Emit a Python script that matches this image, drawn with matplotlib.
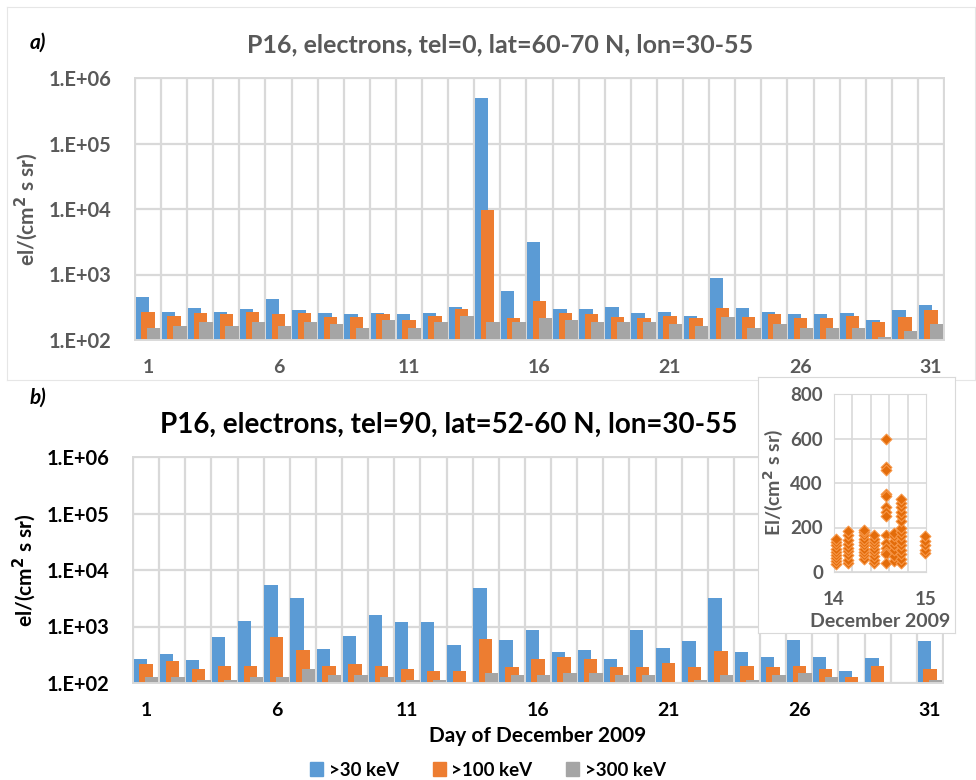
import numpy as np
import matplotlib
matplotlib.use("Agg")
import matplotlib.pyplot as plt
from matplotlib.patches import Patch
from matplotlib.ticker import FixedLocator, FuncFormatter

plt.rcParams['font.family'] = ['Lato', 'DejaVu Sans']
plt.rcParams['font.weight'] = 'bold'
plt.rcParams['axes.labelweight'] = 'bold'

W, H = 976, 780
BLUE, ORANGE, GRAY = '#5B9BD5', '#ED7D31', '#A5A5A5'
GRID = '#D9D9D9'

days = np.arange(1, 32)
tick_days = [1, 6, 11, 16, 21, 26, 31]
labels = ['>30 keV', '>100 keV', '>300 keV']

# panel a) tel=0, lat=60-70 N
a_30 = [457, 270, 311, 270, 297, 423, 284, 258, 247, 258, 247, 258, 323, 490000, 554, 3135,
        297, 297, 323, 258, 270, 235, 875, 311, 270, 247, 247, 258, 200, 284, 346]
a_100 = [270, 235, 258, 249, 270, 249, 258, 224, 224, 249, 200, 235, 297, 9660, 214, 398,
         258, 249, 224, 214, 235, 214, 311, 224, 249, 214, 214, 235, 186, 224, 284]
a_300 = [151, 164, 186, 164, 186, 164, 186, 173, 151, 200, 151, 186, 235, 186, 186, 214,
         200, 186, 186, 186, 173, 164, 224, 151, 173, 151, 151, 151, 112, 137, 173]

# panel b) tel=90, lat=52-60 N (day 30 missing)
nan = np.nan
b_30 = [265, 329, 251, 656, 1260, 5350, 3200, 398, 675, 1585, 1190, 1225, 468, 4875, 573, 871,
        348, 387, 265, 850, 409, 551, 3200, 348, 287, 573, 287, 163, 272, nan, 551]
b_100 = [216, 244, 177, 202, 202, 640, 377, 202, 216, 202, 177, 163, 163, 597, 189, 265,
         287, 265, 189, 189, 225, 189, 367, 202, 189, 202, 177, 126, 202, nan, 177]
b_300 = [126, 126, 113, 113, 126, 126, 177, 138, 138, 126, 113, 113, nan, 152, 138, 138,
         150, 150, 138, 138, nan, 113, 138, 113, 138, 150, 126, nan, nan, nan, 113]

# inset: >100 keV on 14 Dec 2009
ins_x = [14.02] * 9 + [14.15] * 9 + [14.33] * 10 + [14.43] * 9 + [14.56] * 14 + [14.65] * 7 \
        + [14.73] * 15 + [14.99] * 5
ins_y = [35, 50, 62, 75, 90, 105, 120, 135, 150,
         40, 55, 75, 95, 110, 125, 145, 165, 185,
         60, 75, 90, 105, 120, 135, 150, 165, 180, 190,
         40, 55, 70, 90, 105, 120, 135, 150, 165,
         600, 470, 460, 350, 340, 290, 270, 250, 165, 130, 110, 90, 80, 40,
         50, 70, 100, 120, 140, 160, 175,
         40, 60, 80, 100, 120, 140, 160, 180, 200, 230, 250, 270, 290, 310, 330,
         85, 100, 120, 140, 160]


def px(l, t, r, b):
    return [l / W, 1 - b / H, (r - l) / W, (b - t) / H]


def bar_panel(ax, series, txt_color):
    width = 0.51
    offs = [-0.22, 0.0, 0.22]
    for vals, off, c in zip(series, offs, [BLUE, ORANGE, GRAY]):
        v = np.array(vals, dtype=float)
        m = ~np.isnan(v)
        ax.bar(days[m] + off, v[m] - 100, bottom=100, width=width, color=c, zorder=2)
    ax.set_yscale('log')
    ax.set_ylim(1e2, 1e6)
    ax.set_xlim(0.5, 31.5)
    ax.yaxis.set_major_locator(FixedLocator([1e2, 1e3, 1e4, 1e5, 1e6]))
    ax.yaxis.set_minor_locator(FixedLocator([]))
    ax.yaxis.set_major_formatter(FuncFormatter(lambda v, p: "1.E+%02d" % round(np.log10(v))))
    ax.set_xticks(tick_days)
    ax.set_xticks(np.arange(0.5, 32, 1), minor=True)
    ax.grid(True, which='minor', axis='x', color=GRID, lw=1.6, zorder=0)
    ax.grid(True, which='major', axis='y', color=GRID, lw=1.6, zorder=0)
    ax.set_axisbelow(True)
    ax.tick_params(which='both', length=0)
    ax.tick_params(axis='x', pad=14, labelsize=14, labelcolor=txt_color)
    ax.tick_params(axis='y', pad=17, labelsize=14.5, labelcolor=txt_color)
    for s in ax.spines.values():
        s.set_color(GRID)
        s.set_linewidth(1.4)
    ax.set_ylabel('el/(cm$^2$ s sr)', fontsize=15, color=txt_color, labelpad=6)


fig = plt.figure(figsize=(W / 100, H / 100), dpi=100)

# faint frame around panel a
frame = fig.add_axes(px(7, 7, 975, 380), zorder=0)
frame.set_xticks([])
frame.set_yticks([])
for s in frame.spines.values():
    s.set_color('#E6E6E6')

ax_a = fig.add_axes(px(135, 78, 944, 340), zorder=1)
bar_panel(ax_a, [a_30, a_100, a_300], '#595959')
fig.text(500 / W, 1 - 45 / H, 'P16, electrons, tel=0, lat=60-70 N, lon=30-55',
         ha='center', va='center', fontsize=18, color='#595959', fontweight='bold')
fig.text(30 / W, 1 - 43 / H, 'a)', fontsize=15, fontstyle='italic', fontweight='bold',
         ha='left', va='center')

ax_b = fig.add_axes(px(133, 457, 943, 683), zorder=1)
bar_panel(ax_b, [b_30, b_100, b_300], '#000000')
ax_b.set_xlabel('Day of December 2009', fontsize=15, labelpad=5)
fig.text(449 / W, 1 - 425 / H, 'P16, electrons, tel=90, lat=52-60 N, lon=30-55',
         ha='center', va='center', fontsize=20, color='black', fontweight='bold')
fig.text(30 / W, 1 - 398 / H, 'b)', fontsize=15, fontstyle='italic', fontweight='bold',
         ha='left', va='center')

# inset box
box = fig.add_axes(px(758, 377, 955, 633), zorder=3)
box.set_facecolor('white')
box.set_xticks([])
box.set_yticks([])
for s in box.spines.values():
    s.set_color(GRID)

ax_i = fig.add_axes(px(834, 394, 926, 572), zorder=4)
ax_i.scatter(ins_x, ins_y, marker='D', s=30, color='#E36C0A', edgecolor='#F79646',
             linewidth=0.8, zorder=3, clip_on=False)
ax_i.set_xlim(14, 15)
ax_i.set_ylim(0, 800)
ax_i.set_xticks([14, 15])
ax_i.set_xticks(np.arange(14, 15.01, 0.2), minor=True)
ax_i.set_yticks([0, 200, 400, 600, 800])
ax_i.grid(True, which='minor', axis='x', color=GRID, lw=1.2)
ax_i.grid(True, which='major', axis='y', color=GRID, lw=1.2)
ax_i.set_axisbelow(True)
ax_i.tick_params(which='both', length=0, labelsize=13.5, labelcolor='#595959')
ax_i.tick_params(axis='x', pad=14)
ax_i.tick_params(axis='y', pad=8)
for s in ax_i.spines.values():
    s.set_color(GRID)
ax_i.set_ylabel('El/(cm$^2$ s sr)', fontsize=14, color='#595959', labelpad=4)
ax_i.set_xlabel('December 2009', fontsize=14, color='#595959', labelpad=3)

handles = [Patch(color=c) for c in [BLUE, ORANGE, GRAY]]
fig.legend(handles, labels, loc='center', bbox_to_anchor=(488 / W, 1 - 770 / H), ncol=3,
           frameon=False, fontsize=13.5, handlelength=0.7, handleheight=0.7,
           handletextpad=0.3, columnspacing=1.8)

fig.savefig('out.png', dpi=100)
